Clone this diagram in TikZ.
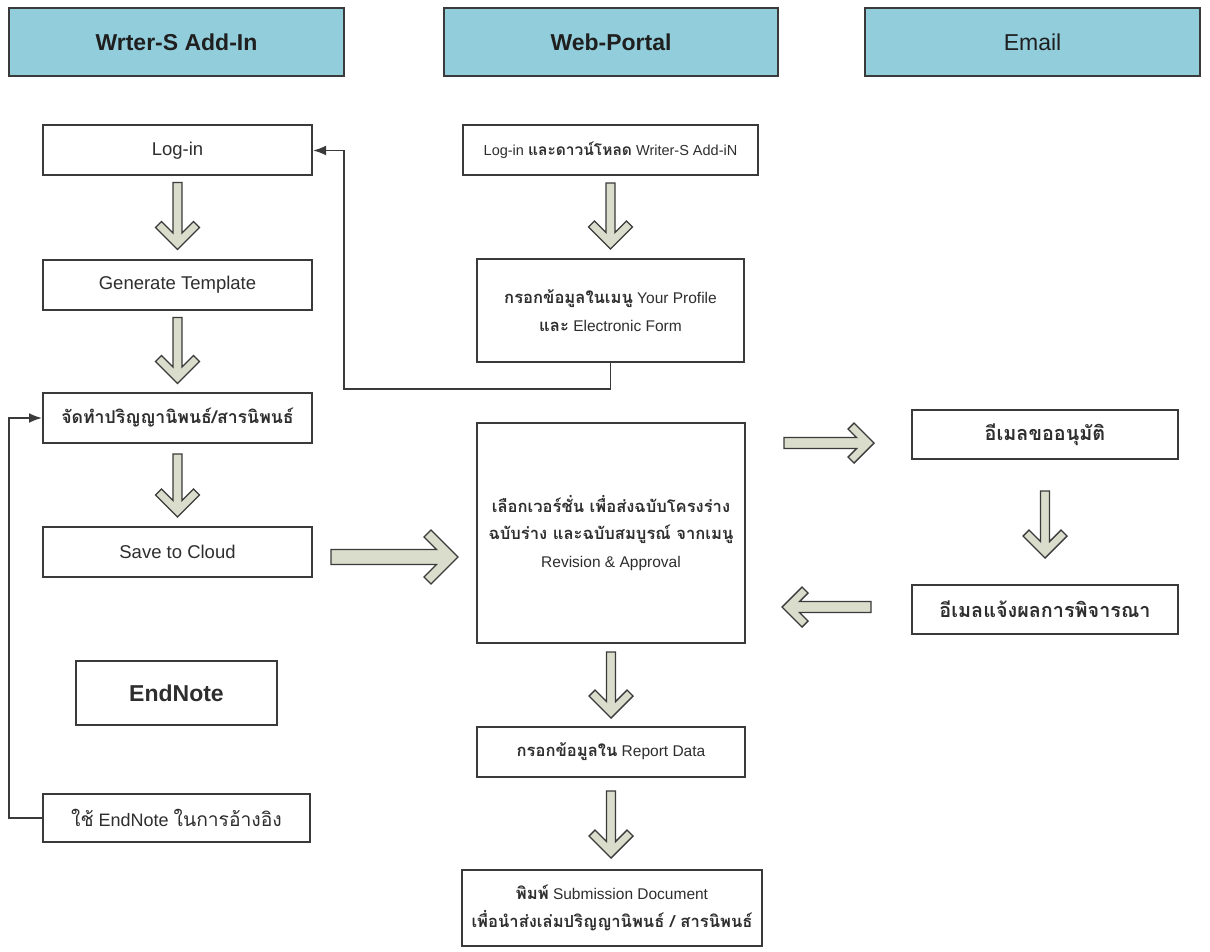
\documentclass[tikz,border=0pt]{standalone}
\usepackage{fontspec}
\setmainfont{Liberation Sans}
\newfontfamily\thai[Script=Thai,Scale=1.07]{Loma}
\usetikzlibrary{arrows.meta,calc}
\definecolor{hdrblue}{RGB}{146,205,220}
\definecolor{arrowfill}{RGB}{218,220,204}
\definecolor{edgecol}{RGB}{58,58,58}
\newcommand\tha[1]{{\thai #1}}
\newcommand\thb[1]{{\thai\bfseries #1}}
\tikzset{
  blockarrow/.style={draw=edgecol, line width=1.4pt, fill=arrowfill, line join=miter},
  pics/barrow/.style args={#1/#2/#3/#4}{code={
    \path[blockarrow] (0,-#2) -- ({#1-2*#4-#2},-#2) -- ({#1-#3-#4},{-#3+#4}) -- ({#1-#3},-#3)
      -- (#1,0) -- ({#1-#3},#3) -- ({#1-#3-#4},{#3-#4}) -- ({#1-2*#4-#2},#2) -- (0,#2) -- cycle;
  }},
}
\begin{document}
\begin{tikzpicture}[x=1pt,y=-1pt,
  box/.style={draw=edgecol, line width=2pt, fill=white, inner sep=0pt, align=center, text=black!82},
  hdr/.style={draw=edgecol, line width=2pt, fill=hdrblue, minimum width=335pt, minimum height=68pt, inner sep=0pt, text=black!88},
  lbox/.style={box, minimum width=269pt, minimum height=50pt, font=\fontsize{18.5}{22}\selectfont},
  mbox/.style={box, minimum width=268pt, font=\fontsize{15.5}{27.5}\selectfont},
  ebox/.style={box, minimum width=266pt, minimum height=49pt, font=\fontsize{18.5}{22}\selectfont},
  conn/.style={draw=edgecol, line width=1.8pt, -{Latex[length=13pt,width=10pt]}}]
\useasboundingbox (0,0) rectangle (1210,952);

% headers
\node[hdr, font=\bfseries\fontsize{23}{28}\selectfont] (h1) at (176.5,42) {Wrter-S Add-In};
\node[hdr, minimum width=334pt, font=\bfseries\fontsize{23}{28}\selectfont] (h2) at (611,42) {Web-Portal};
\node[hdr, font=\fontsize{23}{28}\selectfont] (h3) at (1032.5,42) {Email};

% left column
\node[lbox] (login) at (177.5,150.5) {Log-in};
\node[lbox] (gen) at (177.5,284.5) {Generate Template};
\node[lbox, font=\fontsize{16.5}{20}\selectfont] (thesis) at (177.5,418) {\thb{จัดทำปริญญานิพนธ์/สารนิพนธ์}};
\node[lbox] (cloud) at (177.5,552) {Save to Cloud};
\node[box, minimum width=201pt, minimum height=64pt, font=\bfseries\fontsize{23}{28}\selectfont] (endnote) at (176.5,693) {EndNote};
\node[lbox, minimum width=267pt, minimum height=48pt, font=\fontsize{18}{22}\selectfont] (usenote) at (176.5,818) {\tha{ใช้} EndNote \tha{ในการอ้างอิง}};

% middle column
\node[box, minimum width=295pt, minimum height=50pt, font=\fontsize{14.5}{18}\selectfont] (dl) at (610.5,150) {Log-in \thb{และดาวน์โหลด} Writer-S Add-iN};
\node[mbox, minimum width=267pt, minimum height=103pt] (profile) at (610.5,310.5) {\thb{กรอกข้อมูลในเมนู} Your Profile\\\thb{และ} Electronic Form};
\node[mbox, minimum height=220pt] (version) at (611,533) {\thb{เลือกเวอร์ชั่น เพื่อส่งฉบับโครงร่าง}\\\thb{ฉบับร่าง และฉบับสมบูรณ์ จากเมนู}\\Revision \& Approval};
\node[mbox, minimum height=50pt] (report) at (611,752) {\thb{กรอกข้อมูลใน} Report Data};
\node[mbox, minimum width=300pt, minimum height=76pt] (submit) at (612,908) {\thb{พิมพ์} Submission Document\\\thb{เพื่อนำส่งเล่มปริญญานิพนธ์ / สารนิพนธ์}};

% email column
\node[ebox] (email1) at (1045,434.5) {\thb{อีเมลขออนุมัติ}};
\node[ebox] (email2) at (1045,609.5) {\thb{อีเมลแจ้งผลการพิจารณา}};

% block arrows (down)
\pic[rotate=-90] at ($(login.south)+(0,6)$) {barrow=67/4.5/22/6};
\pic[rotate=-90] at ($(gen.south)+(0,7)$) {barrow=66/4.5/22/6};
\pic[rotate=-90] at ($(thesis.south)+(0,10)$) {barrow=63/4.5/22/6};
\pic[rotate=-90] at ($(dl.south)+(0,7)$) {barrow=66/4.5/22/6};
\pic[rotate=-90] at ($(version.south)+(0,8)$) {barrow=66/4.5/22/6};
\pic[rotate=-90] at ($(report.south)+(0,13)$) {barrow=67/4.5/22/6};
\pic[rotate=-90] at ($(email1.south)+(0,31)$) {barrow=67/4.5/22/6};
% block arrows (horizontal)
\pic at ($(cloud.east)+(18,5)$) {barrow=127/7.5/27/7};
\pic at ($(version.east |- email1.west)+(38,8.5)$) {barrow=90/5.5/20/6};
\pic[rotate=180] at ($(email2.west)+(-40,-2.5)$) {barrow=89/5.5/20/6};

% connectors
\coordinate (bend) at ($(login.east)+(31,0)$);
\draw[conn] (profile.south) -- ++(0,26) -| (bend) -- (login.east);
\draw[conn] (usenote.west) -- ++(-33,0) |- (thesis.west);
\end{tikzpicture}
\end{document}
